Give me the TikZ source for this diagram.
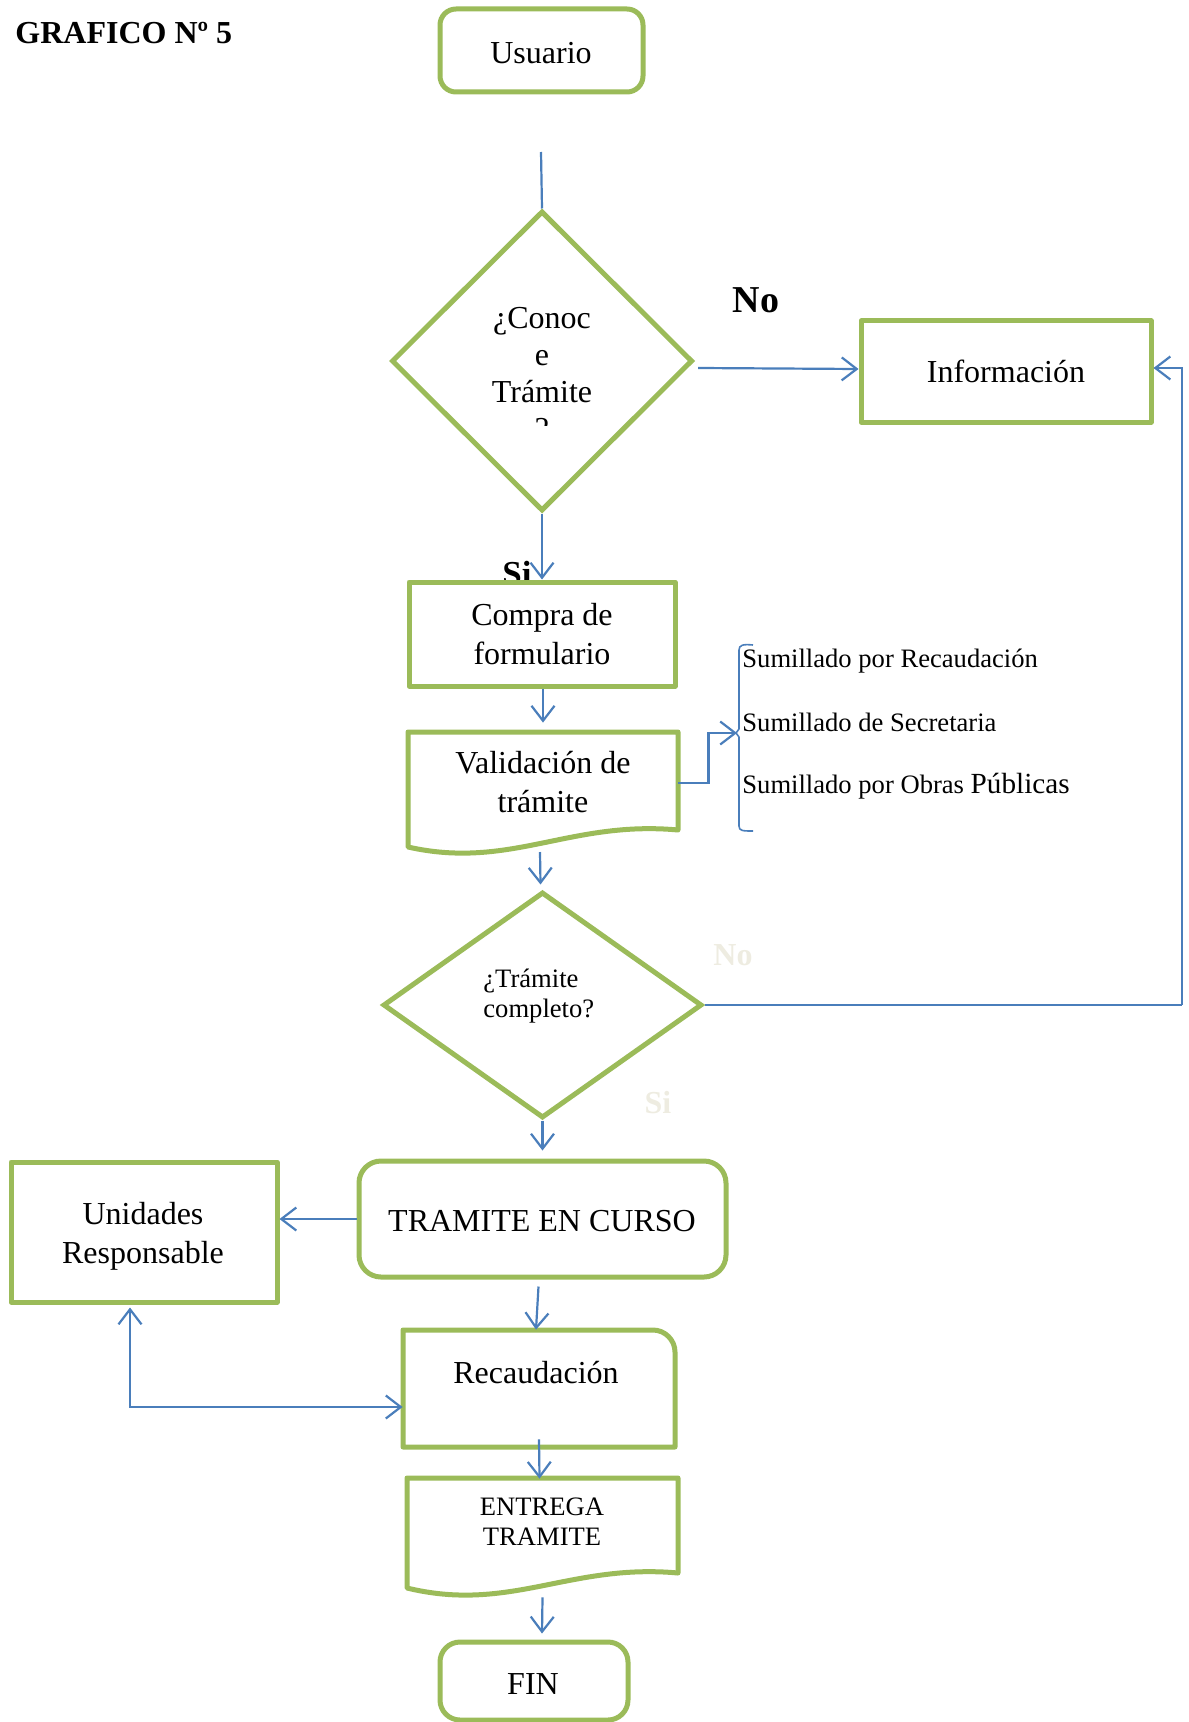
\documentclass[tikz,border=0pt]{standalone}
\usepackage{fontspec}
\setmainfont{Liberation Serif}
\usetikzlibrary{shapes.geometric,arrows.meta,calc}
\definecolor{grn}{HTML}{9BBB59}
\definecolor{blu}{HTML}{4A7EBB}
\definecolor{faint}{HTML}{EEECE1}
\newcommand\fsz[2]{\fontsize{#1}{#2}\selectfont}
\begin{document}
\begin{tikzpicture}[x=0.5pt,y=-0.5pt,
  gbox/.style={draw=grn, line width=2.5pt, fill=white, inner sep=0pt, line join=round, align=center, font=\fsz{16}{19.5}},
  gshape/.style={draw=grn, line width=2.5pt, fill=white, line join=round},
  gdia/.style={draw=grn, line width=2.5pt, fill=white, diamond, inner sep=0pt, line join=miter},
  conn/.style={draw=blu, line width=1.1pt, -{Straight Barb[length=7.5pt,width=11.5pt,line width=1.1pt]}},
  txt/.style={font=\fsz{16}{19.5}, align=center, inner sep=0pt},
  stxt/.style={font=\fsz{13.3}{15}, inner sep=0pt},
  fainttxt/.style={font=\bfseries\fsz{16}{19}, text=faint, inner sep=0pt}]
\useasboundingbox (0,0) rectangle (1188,1722);

% title
\node[anchor=west, font=\bfseries\fsz{16}{20}, inner sep=0pt] (title) at (15,33) {GRAFICO Nº 5};

% Usuario
\node[gbox, rounded corners=8pt, minimum width=101.5pt, minimum height=41.5pt] (usuario) at (541.5,50.5) {};
\node[txt] (usuariot) at (541,53) {Usuario};
\coordinate (lstart) at (541,152);

% diamond 1
\node[gdia, minimum width=150.5pt, minimum height=150pt] (d1) at (542,361) {};
\begin{scope}
  \clip (380,200) rectangle (700,425);
  \node[txt, font=\fsz{16}{18.5}] (d1t) at (542,373.5) {¿Conoc\\e\\Trámite\\?};
\end{scope}
\node[font=\bfseries\fsz{19}{22}, inner sep=0pt] (no1) at (756,300) {No};

% Informacion
\node[gbox, minimum width=145pt, minimum height=50.5pt] (info) at (1006,371.5) {Información};

% Si label (partly hidden by box)
\node[font=\bfseries\fsz{17.5}{20}, inner sep=0pt] (si1) at (517,574) {Si};

% Compra
\node[gbox, minimum width=133pt, minimum height=52pt] (compra) at (542,634) {Compra de\\formulario};

% Validacion (document shape)
\node[minimum width=135pt, minimum height=49pt, inner sep=0pt] (valid) at (543,781) {};
\draw[gshape] (408,847) -- (408,732) -- (678,732) -- (678,830) .. controls (570,820) and (510,870) .. (408,847) -- cycle;
\node[txt] (validt) at (543,782) {Validación de\\trámite};

% bracket and list
\coordinate (brk) at (737,733);
\draw[blu, line width=0.8pt, line join=round] (753,645) .. controls (743,644) and (739,645) .. (739,650) -- (739,729) -- (736,733) -- (739,737) -- (739,826) .. controls (739,831) and (743,831) .. (753,831);
\node[stxt, anchor=west] (s1) at (742,661) {Sumillado por Recaudación};
\node[stxt, anchor=west] (s2) at (742,722) {Sumillado de Secretaria};
\node[stxt, anchor=west] (s3) at (742,786) {Sumillado por Obras {\fsz{14.6}{15}Públicas}};

% diamond 2
\node[gdia, minimum width=159.5pt, minimum height=113pt] (d2) at (542.5,1005) {};
\node[stxt, align=left, anchor=west] (d2t) at (483,996) {¿Trámite\\completo?};
\node[fainttxt] (no2) at (733,955) {No};
\node[fainttxt] (si2) at (658,1103) {Si};
\coordinate (corner) at (1182,1005);

% Tramite en curso
\node[gbox, rounded corners=11pt, minimum width=183.5pt, minimum height=58pt] (tramite) at (542.5,1219) {};
\node[txt] (tramitet) at (542,1221) {TRAMITE EN CURSO};

% Unidades
\node[gbox, minimum width=133pt, minimum height=70pt] (unid) at (144,1232) {};
\node[txt] (unidt) at (143,1236) {Unidades\\Responsable};

% Recaudacion (one rounded corner)
\node[minimum width=136pt, minimum height=58.5pt, inner sep=0pt] (recaud) at (539,1388.5) {};
\draw[gshape] (403,1447) -- (403,1330) -- (653,1330) .. controls (665,1330) and (675,1340) .. (675,1352) -- (675,1447) -- cycle;
\node[txt] (recaudt) at (536,1373) {Recaudación};

% Entrega tramite (document shape)
\node[minimum width=135.5pt, minimum height=55pt, inner sep=0pt] (entrega) at (542.5,1533) {};
\draw[gshape] (407,1588) -- (407,1478) -- (678,1478) -- (678,1573) .. controls (570,1563) and (510,1613) .. (407,1588) -- cycle;
\node[stxt, align=center] (entregat) at (542,1522) {ENTREGA\\TRAMITE};

% FIN
\node[gbox, rounded corners=10pt, minimum width=94pt, minimum height=39pt] (fin) at (534,1681) {};
\node[txt] (fint) at (533,1684) {FIN};

% connectors
\draw[blu, line width=1.1pt] (lstart) -- (d1.north);
\draw[conn] ([shift={(3,7)}]d1.east) -- ([yshift=1.25pt]info.west);
\draw[conn] (d1.south) -- (compra.north);
\draw[conn] ([xshift=0.5pt]compra.south) -- ([yshift=4.5pt]valid.north);
\draw[blu, line width=1.1pt] ([yshift=-1pt]valid.east) -- ++(30,0) |- (brk);
\draw[conn] ([yshift=-1pt]valid.east) ++(30,0) |- (brk);
\draw[conn] (540,852) -- ([shift={(-2,-5)}]d2.north);
\draw[blu, line width=1.1pt] (d2.east) -- (corner);
\draw[conn] (corner) |- ([yshift=1.75pt]info.east);
\draw[conn] (d2.south) -- ([yshift=4pt]tramite.north);
\draw[conn] (tramite.west) -- (unid.east |- tramite.west);
\draw[conn] ([shift={(-4,7)}]tramite.south) -- ([xshift=-1.5pt]recaud.north);
\draw[draw=blu, line width=1.1pt, {Straight Barb[length=7.5pt,width=11.5pt,line width=1.1pt]}-{Straight Barb[length=7.5pt,width=11.5pt,line width=1.1pt]}] ([shift={(-14,3)}]unid.south) |- ([yshift=-9.25pt]recaud.west);
\draw[conn] ([yshift=4pt]recaud.south) -- ([shift={(-3,1)}]entrega.north);
\draw[conn] ([yshift=-4.5pt]entrega.south) -- ([shift={(8,-6)}]fin.north);
\end{tikzpicture}
\end{document}
